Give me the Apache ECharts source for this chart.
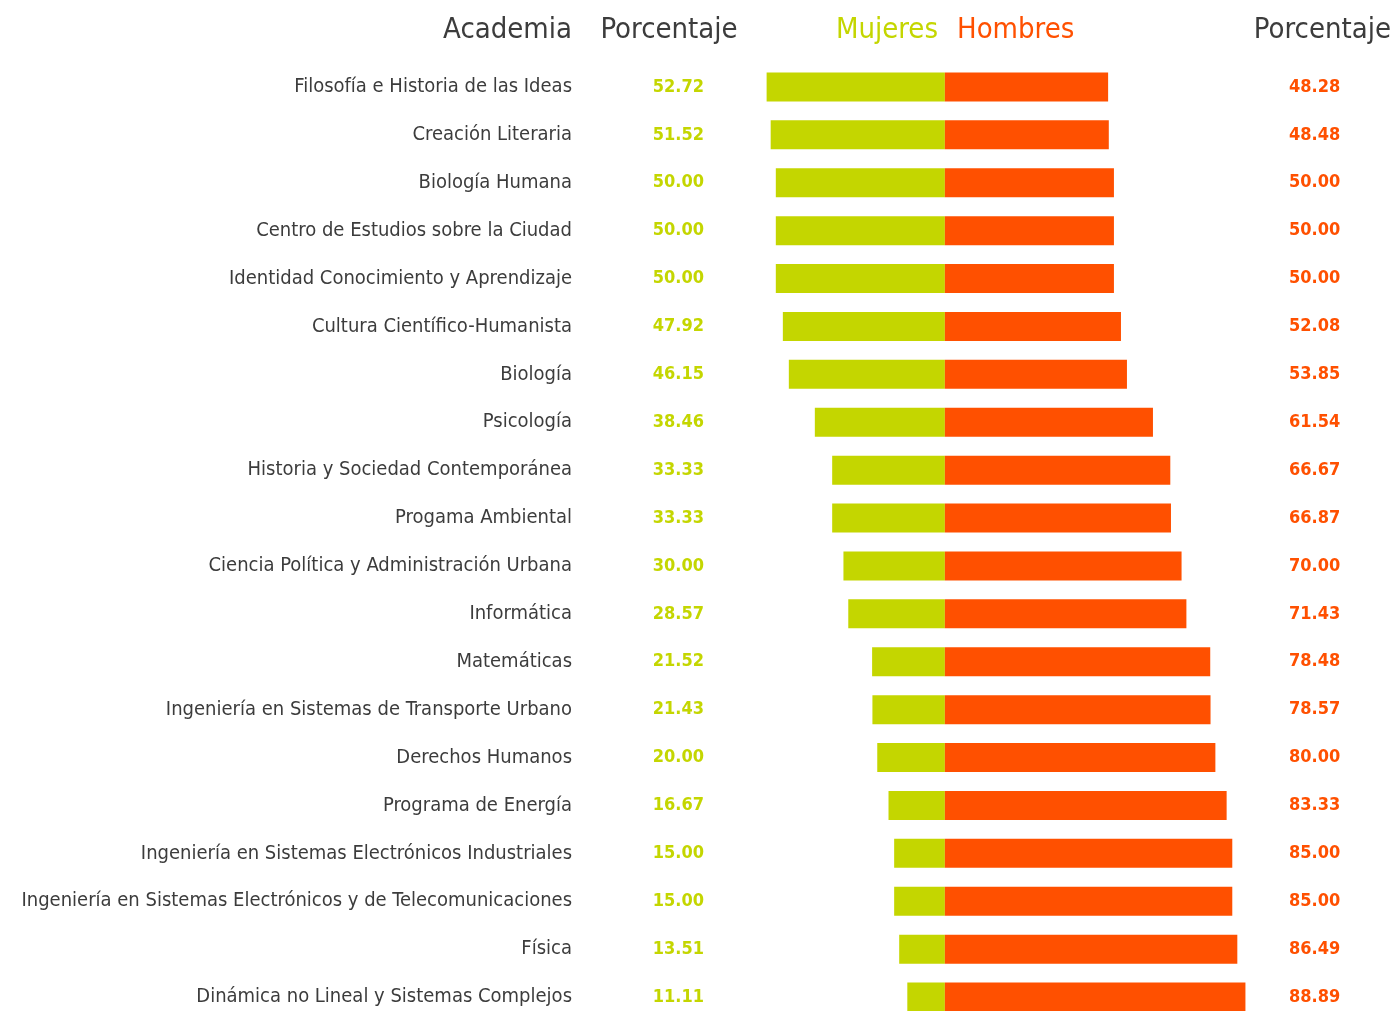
<!DOCTYPE html>
<html>
<head>
<meta charset="utf-8">
<script src="https://cdn.jsdelivr.net/npm/echarts@6/dist/echarts.min.js"></script>
<style>
  html, body { margin: 0; padding: 0; background: #fff; }
  #chart { width: 1399px; height: 1011px; }
</style>
</head>
<body>
<div id="chart"></div>
<script>
// datos por academia
const academias = [
  'Filosofía e Historia de las Ideas',
  'Creación Literaria',
  'Biología Humana',
  'Centro de Estudios sobre la Ciudad',
  'Identidad Conocimiento y Aprendizaje',
  'Cultura Científico-Humanista',
  'Biología',
  'Psicología',
  'Historia y Sociedad Contemporánea',
  'Progama Ambiental',
  'Ciencia Política y Administración Urbana',
  'Informática',
  'Matemáticas',
  'Ingeniería en Sistemas de Transporte Urbano',
  'Derechos Humanos',
  'Programa de Energía',
  'Ingeniería en Sistemas Electrónicos Industriales',
  'Ingeniería en Sistemas Electrónicos y de Telecomunicaciones',
  'Física',
  'Dinámica no Lineal y Sistemas Complejos'
];
const mujeres = [52.72, 51.52, 50.00, 50.00, 50.00, 47.92, 46.15, 38.46, 33.33, 33.33,
  30.00, 28.57, 21.52, 21.43, 20.00, 16.67, 15.00, 15.00, 13.51, 11.11];
const hombres = [48.28, 48.48, 50.00, 50.00, 50.00, 52.08, 53.85, 61.54, 66.67, 66.87,
  70.00, 71.43, 78.48, 78.57, 80.00, 83.33, 85.00, 85.00, 86.49, 88.89];

const VERDE = '#c4d600';
const NARANJA = '#ff5000';
const GRIS = '#3c3c3c';
const FUENTE = "'DejaVu Sans Condensed', 'Liberation Sans Narrow', sans-serif";

const chart = echarts.init(document.getElementById('chart'));

const catAxis = {
  type: 'category',
  inverse: true,
  axisLine: { show: false },
  axisTick: { show: false },
  splitLine: { show: false }
};

function encabezado(texto, x, align, color) {
  return {
    type: 'text',
    x: x,
    y: 30,
    style: {
      text: texto,
      fontSize: 29,
      fontFamily: FUENTE,
      fill: color,
      textAlign: align,
      textVerticalAlign: 'middle'
    }
  };
}

const option = {
  animation: false,
  textStyle: { fontFamily: FUENTE },
  grid: { left: 742, right: 116, top: 63, height: 958, outerBoundsMode: 'none' },
  graphic: [
    encabezado('Academia', 572, 'right', GRIS),
    encabezado('Porcentaje', 669, 'center', GRIS),
    encabezado('Mujeres', 938, 'right', VERDE),
    encabezado('Hombres', 957, 'left', NARANJA),
    encabezado('Porcentaje', 1391, 'right', GRIS)
  ],
  xAxis: {
    type: 'value',
    min: -60,
    max: 100,
    show: false
  },
  yAxis: [
    Object.assign({}, catAxis, {
      position: 'left',
      data: academias,
      axisLabel: { margin: 170, fontSize: 20, color: GRIS, fontFamily: FUENTE }
    }),
    Object.assign({}, catAxis, {
      position: 'left',
      data: mujeres.map(v => v.toFixed(2)),
      axisLabel: { margin: 38, fontSize: 18, fontWeight: 'bold', color: VERDE, fontFamily: FUENTE }
    }),
    Object.assign({}, catAxis, {
      position: 'right',
      data: hombres.map(v => v.toFixed(2)),
      axisLabel: { margin: 6, fontSize: 18, fontWeight: 'bold', color: NARANJA, fontFamily: FUENTE }
    })
  ],
  series: [
    {
      name: 'Mujeres',
      type: 'bar',
      stack: 'total',
      barWidth: 29,
      itemStyle: { color: VERDE },
      data: mujeres.map(v => -v)
    },
    {
      name: 'Hombres',
      type: 'bar',
      stack: 'total',
      barWidth: 29,
      itemStyle: { color: NARANJA },
      data: hombres
    }
  ]
};

chart.setOption(option);
</script>
</body>
</html>
